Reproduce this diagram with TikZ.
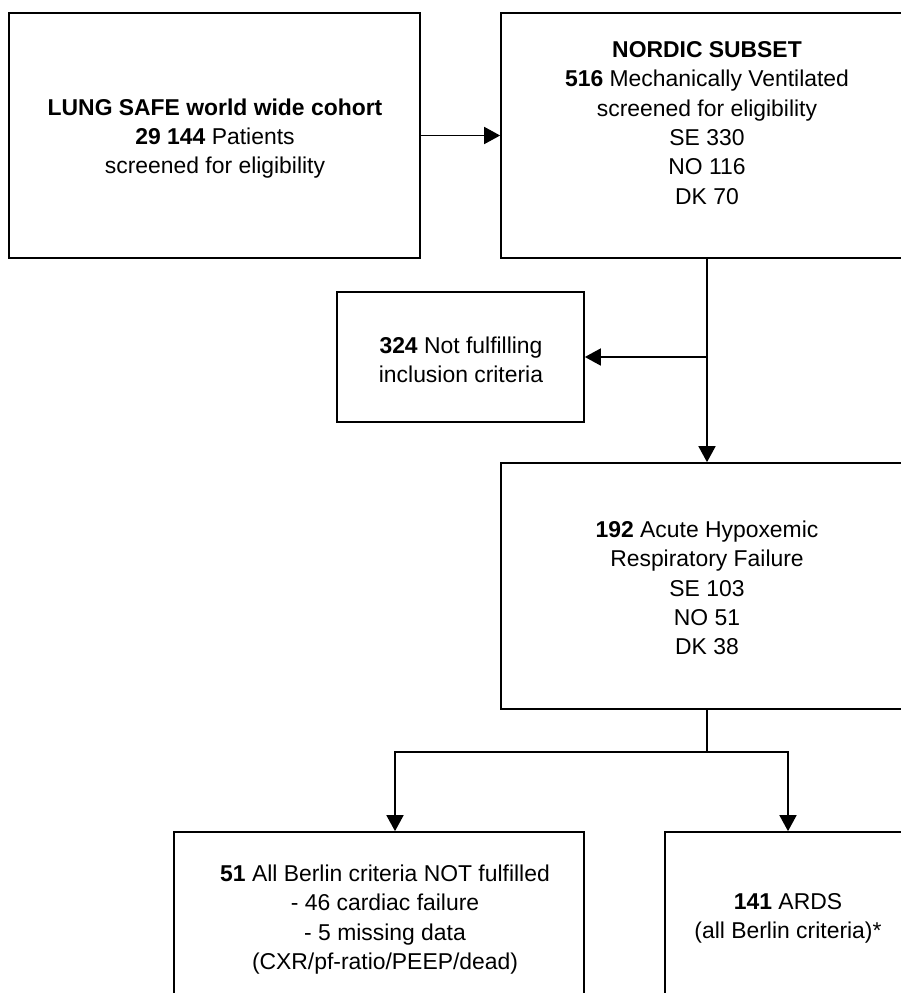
\documentclass[tikz,border=0pt]{standalone}
\usepackage{fontspec}
\setmainfont{Liberation Sans}
\usetikzlibrary{arrows.meta,calc}
\tikzset{
  box/.style={draw=black, line width=1.7pt, rectangle, inner sep=0pt},
  txt/.style={align=center, inner sep=0pt, font=\fontsize{22.9pt}{29.3pt}\selectfont},
  arr/.style={line width=1.7pt, -{Triangle[length=16pt,width=17pt]}},
  ln/.style={line width=1.7pt}
}
\begin{document}
\begin{tikzpicture}[x=1pt,y=-1pt]
\useasboundingbox (0,0) rectangle (901,993);
\clip (0,0) rectangle (901,993);
\fill[white] (0,0) rectangle (901,993);
% boxes
\node[box, minimum width=411pt, minimum height=245pt] (b1) at (214.5,135.5) {};
\node[box, minimum width=412pt, minimum height=245pt] (b2) at (707,135.5) {};
\node[box, minimum width=247pt, minimum height=130pt] (b3) at (460.5,357) {};
\node[box, minimum width=412pt, minimum height=246pt] (b4) at (707,586) {};
\node[box, minimum width=410pt, minimum height=246pt] (b5) at (379,955) {};
\node[box, minimum width=246pt, minimum height=246pt] (b6) at (788,955) {};
% texts
\node[txt] (t1) at (215,138.5) {\textbf{LUNG SAFE world wide cohort}\\\textbf{29 144} Patients\\screened for eligibility};
\node[txt] (t2) at (707,123) {\textbf{NORDIC SUBSET}\\\textbf{516} Mechanically Ventilated\\screened for eligibility\\SE 330\\NO 116\\DK 70};
\node[txt] (t3) at (461,360) {\textbf{324} Not fulfilling\\inclusion criteria};
\node[txt] (t4) at (707,588) {\textbf{192} Acute Hypoxemic\\Respiratory Failure\\SE 103\\NO 51\\DK 38};
\node[txt] (t5) at (385,919.5) {\textbf{51} All Berlin criteria NOT fulfilled\\- 46 cardiac failure\\- 5 missing data\\(CXR/pf-ratio/PEEP/dead)};
\node[txt] (t6) at (788,918.5) {\textbf{141} ARDS\\(all Berlin criteria)*};
% connectors
\coordinate (j1) at (707,357);
\coordinate (j2) at (707,752);
\draw[arr] (b1.east) -- (b2.west);
\draw[arr] (b2.south) -- (b4.north);
\draw[arr] (j1) -- (b3.east);
\draw[ln] (b4.south) -- (j2);
\draw[arr] (j2) -| ($(b5.north)+(16,0)$);
\draw[arr] (j2) -| (b6.north);
\end{tikzpicture}
\end{document}
